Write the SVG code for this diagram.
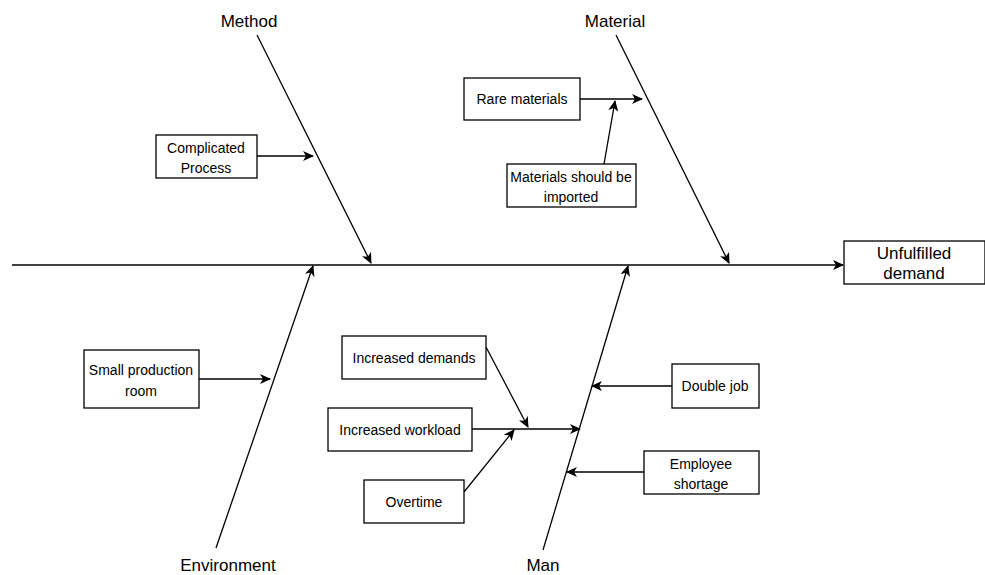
<svg xmlns="http://www.w3.org/2000/svg" width="985" height="575" viewBox="0 0 985 575">
<defs>
<marker id="arr" markerWidth="12" markerHeight="10" refX="10" refY="5" orient="auto" markerUnits="userSpaceOnUse">
<path d="M0,0 L11,5 L0,10 L3,5 Z" fill="#000"/>
</marker>
<style>
.box{fill:#fff;stroke:#000;stroke-width:1.3}
.ln{fill:none;stroke:#000;stroke-width:1.3}
.ar{fill:none;stroke:#000;stroke-width:1.3;marker-end:url(#arr)}
.t{font-family:"Liberation Sans",Arial,sans-serif;font-size:14px;fill:#000;text-anchor:middle}
.lb{font-family:"Liberation Sans",Arial,sans-serif;font-size:17px;fill:#000;text-anchor:middle}
</style>
</defs>
<rect width="985" height="575" fill="#fff"/>
<g id="connectors">
<line class="ar" x1="12" y1="265" x2="843" y2="265"/>
<line class="ar" x1="257" y1="35" x2="371" y2="263"/>
<line class="ar" x1="616" y1="35" x2="729" y2="263"/>
<line class="ar" x1="216" y1="548" x2="313" y2="266"/>
<line class="ar" x1="543" y1="550" x2="628" y2="266"/>
<line class="ar" x1="257" y1="156" x2="313" y2="156"/>
<line class="ar" x1="580" y1="99" x2="642" y2="99"/>
<line class="ar" x1="604" y1="164" x2="615" y2="101"/>
<line class="ar" x1="199" y1="379" x2="270" y2="379"/>
<line class="ar" x1="486" y1="347" x2="528" y2="427"/>
<line class="ar" x1="472" y1="429" x2="580" y2="429"/>
<line class="ar" x1="464" y1="492" x2="514" y2="430"/>
<line class="ar" x1="672" y1="386" x2="592" y2="386"/>
<line class="ar" x1="644" y1="472" x2="567" y2="472"/>
</g>
<g id="unfulfilled"><rect class="box" x="844" y="241" width="141" height="43"/><text class="lb" x="914" y="259">Unfulfilled</text><text class="lb" x="914" y="279">demand</text></g>
<g id="method"><text class="lb" x="249" y="27">Method</text></g>
<g id="material"><text class="lb" x="615" y="27">Material</text></g>
<g id="environment"><text class="lb" x="228" y="571">Environment</text></g>
<g id="man"><text class="lb" x="543" y="571">Man</text></g>
<g id="complicated"><rect class="box" x="156" y="135" width="101" height="43"/><text class="t" x="206" y="153">Complicated</text><text class="t" x="206" y="173">Process</text></g>
<g id="rare"><rect class="box" x="464" y="78" width="116" height="42"/><text class="t" x="522" y="104">Rare materials</text></g>
<g id="imported"><rect class="box" x="507" y="164" width="129" height="43"/><text class="t" x="571" y="182">Materials should be</text><text class="t" x="571" y="202">imported</text></g>
<g id="smallroom"><rect class="box" x="84" y="350" width="115" height="58"/><text class="t" x="141" y="375">Small production</text><text class="t" x="141" y="396">room</text></g>
<g id="demands"><rect class="box" x="342" y="336" width="144" height="43"/><text class="t" x="414" y="362.5">Increased demands</text></g>
<g id="workload"><rect class="box" x="328" y="408" width="144" height="43"/><text class="t" x="400" y="434.5">Increased workload</text></g>
<g id="overtime"><rect class="box" x="364" y="480" width="100" height="43"/><text class="t" x="414" y="506.5">Overtime</text></g>
<g id="doublejob"><rect class="box" x="672" y="364" width="87" height="44"/><text class="t" x="715" y="391">Double job</text></g>
<g id="shortage"><rect class="box" x="644" y="451" width="115" height="43"/><text class="t" x="701" y="469">Employee</text><text class="t" x="701" y="489">shortage</text></g>
</svg>
